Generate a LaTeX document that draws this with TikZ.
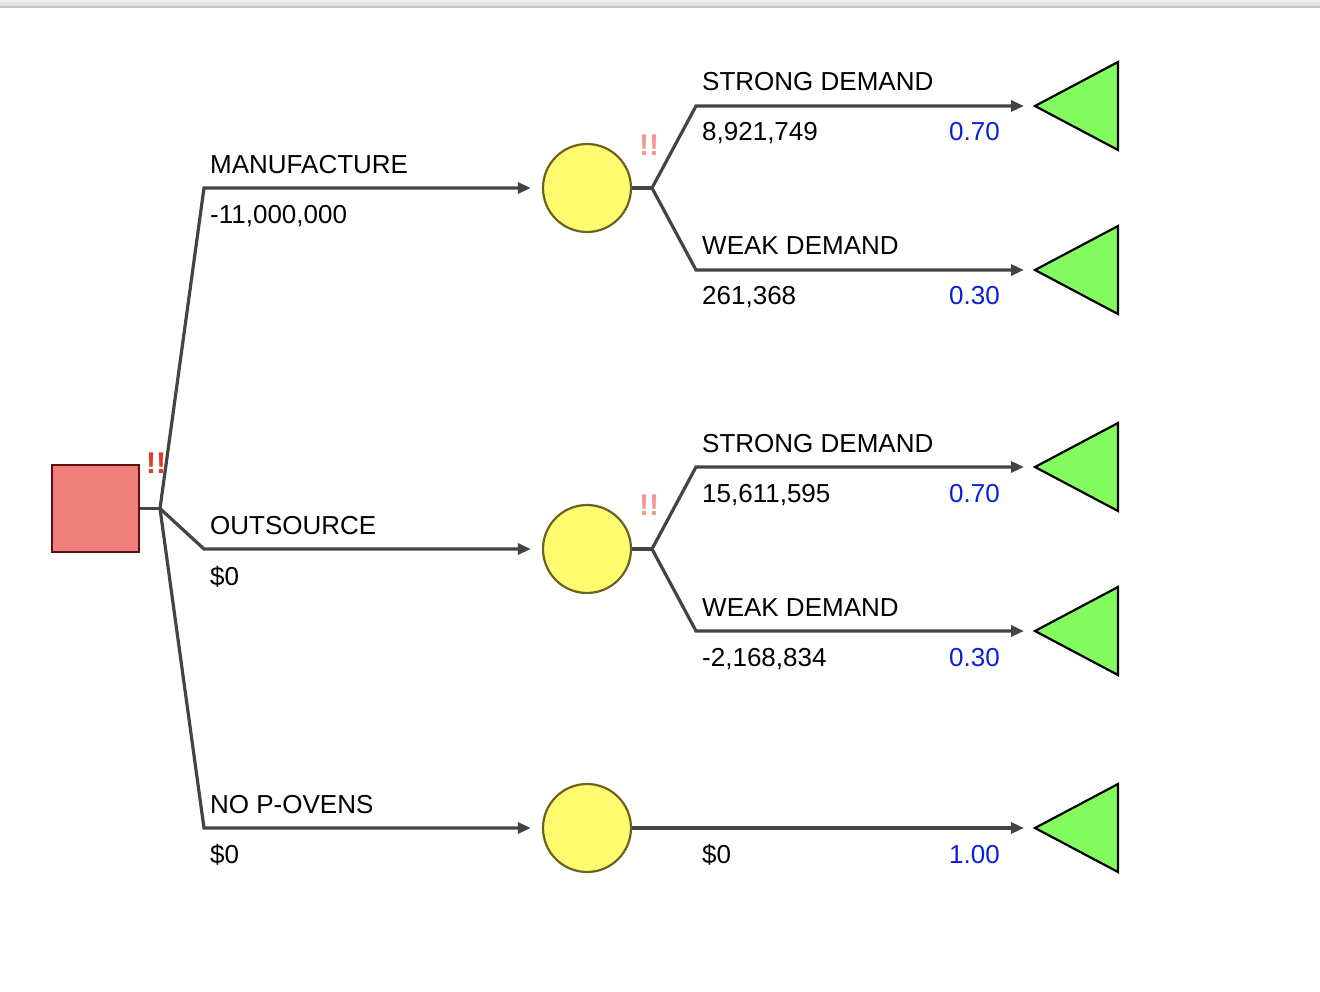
\documentclass[tikz,border=0pt]{standalone}
\usepackage{fontspec}
\setmainfont{Liberation Sans}
\usetikzlibrary{arrows.meta}
\definecolor{edgecol}{HTML}{444444}
\definecolor{decfill}{HTML}{EF7F7A}
\definecolor{decborder}{HTML}{5A1212}
\definecolor{chfill}{HTML}{FFFC70}
\definecolor{chborder}{HTML}{6A6420}
\definecolor{termfill}{HTML}{84FC60}
\definecolor{probblue}{HTML}{0A1EDC}
\definecolor{bangred}{HTML}{E5392B}
\definecolor{banglight}{HTML}{F29A96}
\begin{document}
\begin{tikzpicture}[x=1pt,y=-1pt,
  branch/.style={draw=edgecol, line width=3.2pt, -{Triangle[length=13pt,width=11pt]}},
  stub/.style={draw=edgecol, line width=3.2pt},
  lab/.style={anchor=base west, inner sep=0pt, font=\fontsize{26}{30}\selectfont},
  prob/.style={anchor=base east, inner sep=0pt, text=probblue, font=\fontsize{26}{30}\selectfont},
  decnode/.style={rectangle, draw=decborder, fill=decfill, line width=2.2pt, minimum size=87pt, inner sep=0pt},
  chnode/.style={circle, draw=chborder, fill=chfill, line width=2.2pt, minimum size=88pt, inner sep=0pt},
  termshape/.style={draw=black, fill=termfill, line width=2.2pt, line join=miter},
  bang/.style={inner sep=0pt, text=bangred, font=\fontsize{30}{34}\selectfont\bfseries},
  banglt/.style={inner sep=0pt, text=banglight, font=\fontsize{30}{34}\selectfont\bfseries}
]
\useasboundingbox (0,0) rectangle (1320,992);
% top bar
\shade[top color=gray!12, bottom color=gray!28] (0,0) rectangle (1320,6);
\fill[gray!45] (0,6) rectangle (1320,8);

% decision node
\node[decnode] (D) at (95.5,508.5) {};
\coordinate (Dj) at (160,508.5);
\node[bang] (bD) at (156,463) {!!};

% chance nodes
\node[chnode] (C1) at (587,188) {};
\node[chnode] (C2) at (587,549) {};
\node[chnode] (C3) at (587,828) {};
\node[banglt] (b1) at (649,145) {!!};
\node[banglt] (b2) at (649,505) {!!};

% terminal triangles
\foreach \n/\y in {T1/106,T2/270,T3/467,T4/631,T5/828}{
  \coordinate (\n) at (1035,\y);
  \draw[termshape] (1035,\y) -- (1118,\y-44) -- (1118,\y+44) -- cycle;
}

% corner coordinates
\coordinate (k1) at (204,188);
\coordinate (k2) at (204,549);
\coordinate (k3) at (204,828);
\coordinate (J1) at (652,188);
\coordinate (J2) at (652,549);
\coordinate (m1) at (696,106);
\coordinate (m2) at (696,270);
\coordinate (m3) at (696,467);
\coordinate (m4) at (696,631);

% decision branches
\draw[stub] (D.east) -- (Dj);
\draw[branch, shorten >=11pt] (Dj) -- (k1) -- (C1.west);
\draw[branch, shorten >=11pt] (Dj) -- (k2) -- (C2.west);
\draw[branch, shorten >=11pt] (Dj) -- (k3) -- (C3.west);

% chance branches
\draw[stub] (C1.east) -- (J1);
\draw[stub] (C2.east) -- (J2);
\draw[branch, shorten >=11pt] (J1) -- (m1) -- (T1);
\draw[branch, shorten >=11pt] (J1) -- (m2) -- (T2);
\draw[branch, shorten >=11pt] (J2) -- (m3) -- (T3);
\draw[branch, shorten >=11pt] (J2) -- (m4) -- (T4);
\draw[branch, shorten >=11pt] (C3.east) -- (T5);

% decision labels
\node[lab] (l1) at (210,174) {MANUFACTURE};
\node[lab] (v1) at (210,224) {-11,000,000};
\node[lab] (l2) at (210,534) {OUTSOURCE};
\node[lab] (v2) at (210,585) {\$0};
\node[lab] (l3) at (210,813) {NO P-OVENS};
\node[lab] (v3) at (210,863) {\$0};

% outcome labels
\node[lab] (o1) at (702,91) {STRONG DEMAND};
\node[lab] (w1) at (702,141) {8,921,749};
\node[prob] (p1) at (1000,141) {0.70};
\node[lab] (o2) at (702,255) {WEAK DEMAND};
\node[lab] (w2) at (702,305) {261,368};
\node[prob] (p2) at (1000,305) {0.30};
\node[lab] (o3) at (702,452) {STRONG DEMAND};
\node[lab] (w3) at (702,502) {15,611,595};
\node[prob] (p3) at (1000,502) {0.70};
\node[lab] (o4) at (702,616) {WEAK DEMAND};
\node[lab] (w4) at (702,666) {-2,168,834};
\node[prob] (p4) at (1000,666) {0.30};
\node[lab] (w5) at (702,863) {\$0};
\node[prob] (p5) at (1000,863) {1.00};
\end{tikzpicture}
\end{document}
